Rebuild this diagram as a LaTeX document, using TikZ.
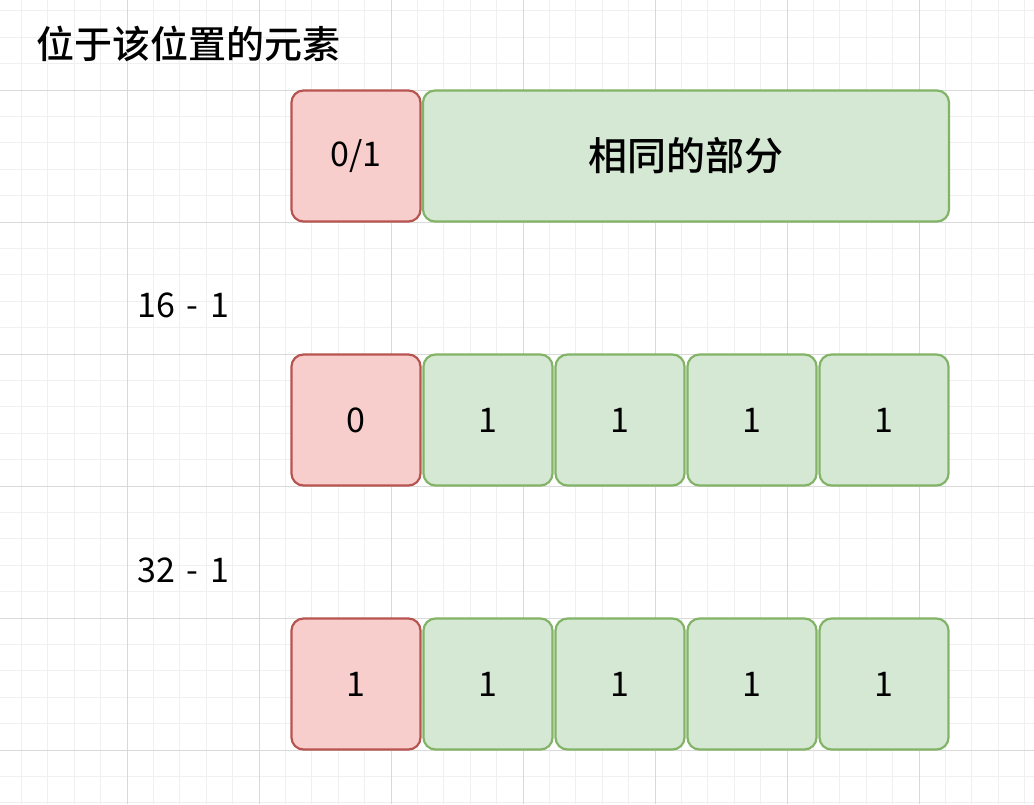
\documentclass[tikz,border=0pt]{standalone}
\usepackage{fontspec}
\setmainfont{Noto Sans CJK SC}[BoldFont={Noto Sans CJK SC Medium}]
\definecolor{cell_red}{HTML}{F8CECC}
\definecolor{edge_red}{HTML}{B85450}
\definecolor{cell_green}{HTML}{D5E8D4}
\definecolor{edge_green}{HTML}{82B366}
\begin{document}
\begin{tikzpicture}[x=1pt,y=-1pt]
    \tikzstyle{cell}=[draw, line width=2.2pt, rounded corners=12pt, minimum width=129pt, minimum height=131pt, font=\fontsize{34}{40}\selectfont, inner sep=0pt]
    \tikzstyle{head}=[cell, fill=cell_red, draw=edge_red]
    \tikzstyle{body}=[cell, fill=cell_green, draw=edge_green]
    \tikzstyle{caption}=[anchor=west, font=\fontsize{34}{40}\selectfont, inner sep=0pt]
    \useasboundingbox (0,0) rectangle (1034,804);
    \fill[white] (0,0) rectangle (1034,804);
    % grid
    \foreach \i in {-4,...,34} {
      \draw[black!6, line width=0.8pt] (127+26.4*\i,0) -- (127+26.4*\i,804);
    }
    \foreach \j in {-3,...,27} {
      \draw[black!6, line width=0.8pt] (0,90+26.4*\j) -- (1034,90+26.4*\j);
    }
    \foreach \i in {0,...,6} {
      \draw[black!15, line width=0.8pt] (127+132*\i,0) -- (127+132*\i,804);
    }
    \foreach \j in {0,...,5} {
      \draw[black!15, line width=0.8pt] (0,90+132*\j) -- (1034,90+132*\j);
    }

    \node[caption, font=\fontsize{38}{44}\selectfont\bfseries] (title) at (36,44) {位于该位置的元素};
    \node[head] (h0) at (356,156) {0/1};
    \node[body, minimum width=526pt, font=\fontsize{39}{44}\selectfont\bfseries] (same) at (686,156) {相同的部分};

    \node[caption] (l16) at (137,305) {16\hspace{12pt}-\hspace{12pt}1};
    \node[head] (a0) at (356,420) {0};
    \foreach \k [count=\n] in {1,1,1,1} {
      \node[body] (a\n) at (356+132*\n,420) {\k};
    }

    \node[caption] (l32) at (137,570) {32\hspace{12pt}-\hspace{12pt}1};
    \node[head] (b0) at (356,684) {1};
    \foreach \k [count=\n] in {1,1,1,1} {
      \node[body] (b\n) at (356+132*\n,684) {\k};
    }
\end{tikzpicture}
\end{document}
